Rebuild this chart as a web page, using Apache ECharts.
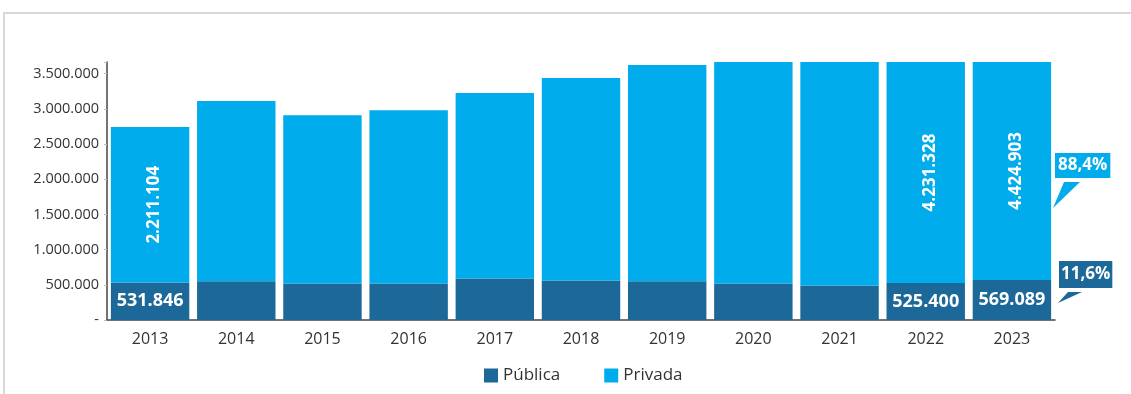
<!DOCTYPE html>
<html>
<head>
<meta charset="utf-8">
<script src="https://cdn.jsdelivr.net/npm/echarts@6/dist/echarts.min.js"></script>
<style>
  html, body { margin: 0; padding: 0; background: #fff; }
  #chart { width: 1131px; height: 394px; }
</style>
</head>
<body>
<div id="chart"></div>
<script>
var years = ["2013", "2014", "2015", "2016", "2017", "2018", "2019", "2020", "2021", "2022", "2023"];
// valores (2013, 2022 e 2023 rotulados; os demais estimados)
var publica = [531846, 550000, 520000, 520000, 590000, 560000, 550000, 520000, 490000, 525400, 569089];
var privada = [2211104, 2560000, 2390000, 2460000, 2634000, 2878000, 3072000, 3400000, 3750000, 4231328, 4424903];
var labeledYears = ["2013", "2022", "2023"];
var shares = ["88,4%", "11,6%"];
var yMax = 3665000, yStep = 500000;

var DARK = "#1c6898", LIGHT = "#00acec";
var FONT = "Open Sans";

function fmt(v) {
  return String(v).replace(/\B(?=(\d{3})+(?!\d))/g, ".");
}

function showLabel(p) {
  return labeledYears.indexOf(p.name) >= 0 ? fmt(p.value) : "";
}

var chart = echarts.init(document.getElementById("chart"));
chart.setOption({
  animation: false,
  textStyle: { fontFamily: FONT },
  grid: { left: 107, right: 76, top: 62, bottom: 74 },
  legend: {
    bottom: 5,
    left: 479,
    itemWidth: 14,
    itemHeight: 14,
    itemGap: 44,
    icon: "rect",
    textStyle: { fontSize: 17, color: "#333", fontFamily: FONT },
    data: ["Pública", "Privada"]
  },
  xAxis: {
    type: "category",
    data: years,
    axisLine: { lineStyle: { color: "#444", width: 1.5 } },
    axisTick: { lineStyle: { color: "#b98" }, length: 3 },
    axisLabel: { fontSize: 16, color: "#333", margin: 11 }
  },
  yAxis: {
    type: "value",
    min: 0,
    max: yMax,
    interval: yStep,
    splitLine: { show: false },
    axisLine: { show: true, lineStyle: { color: "#444", width: 1.5 } },
    axisTick: { show: true, length: 3, lineStyle: { color: "#bbb" } },
    axisLabel: {
      fontSize: 14.5,
      color: "#333",
      margin: 8,
      formatter: function (v) {
        if (v === 0) return "-";
        return v % yStep === 0 ? fmt(v) : "";
      }
    }
  },
  series: [{
    name: "Pública",
    type: "bar",
    stack: "total",
    barCategoryGap: "9%",
    itemStyle: { color: DARK },
    label: {
      show: true,
      position: "inside",
      color: "#fff",
      fontWeight: "bold",
      fontSize: 18,
      formatter: showLabel
    },
    data: publica
  }, {
    name: "Privada",
    type: "bar",
    stack: "total",
    barCategoryGap: "9%",
    itemStyle: { color: LIGHT },
    label: {
      show: true,
      position: "inside",
      rotate: 90,
      color: "#fff",
      fontWeight: "bold",
      fontSize: 17,
      offset: [0, 4],
      formatter: showLabel
    },
    data: privada
  }],
  graphic: [{
    type: "rect",
    shape: { x: 4, y: 13, width: 1140, height: 400 },
    style: { fill: "none", stroke: "#d8d8d8", lineWidth: 2 },
    silent: true
  }, {
    type: "polygon",
    shape: { points: [[1064, 182], [1080, 182], [1053, 208]] },
    style: { fill: LIGHT }
  }, {
    type: "text",
    left: 1055,
    top: 153,
    style: {
      text: shares[0],
      fill: "#fff",
      font: "bold 17px " + FONT,
      backgroundColor: LIGHT,
      padding: [4, 3, 4, 3]
    }
  }, {
    type: "polygon",
    shape: { points: [[1068, 292], [1082, 292], [1058, 303]] },
    style: { fill: DARK }
  }, {
    type: "text",
    left: 1059,
    top: 261,
    style: {
      text: shares[1],
      fill: "#fff",
      font: "bold 17px " + FONT,
      backgroundColor: DARK,
      padding: [5, 2, 5, 2]
    }
  }]
});
</script>
</body>
</html>
